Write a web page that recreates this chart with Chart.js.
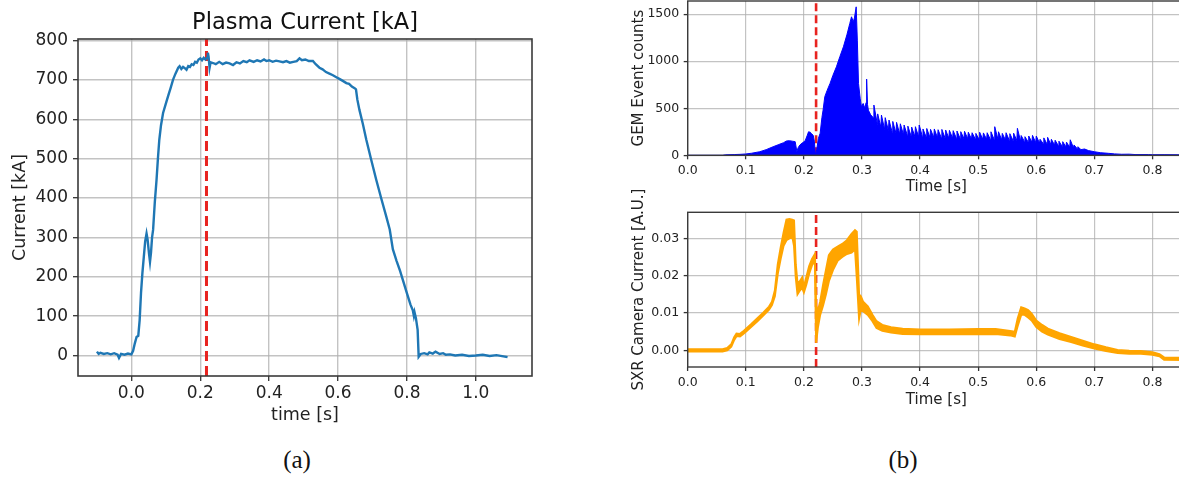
<!DOCTYPE html>
<html>
<head>
<meta charset="utf-8">
<script src="https://cdn.jsdelivr.net/npm/chart.js@4.4.0/dist/chart.umd.min.js"></script>
<style>
html, body { margin: 0; padding: 0; background: #fff; overflow: hidden; width: 1179px; height: 477px; }
canvas { position: absolute; }
#plasma { left: 0; top: 0; }
#gem { left: 600px; top: 0; }
#sxr { left: 600px; top: 180px; }
.cap { position: absolute; font-family: "Liberation Serif", "DejaVu Serif", serif; font-size: 25px; line-height: 30px; color: #111; transform: translateX(-50%); }
</style>
</head>
<body>
<canvas id="plasma" width="545" height="440"></canvas>
<canvas id="gem" width="585" height="215"></canvas>
<canvas id="sxr" width="585" height="250"></canvas>
<div class="cap" style="left:297px; top:445px">(a)</div>
<div class="cap" style="left:903px; top:445px">(b)</div>
<script>
var FONT = "'DejaVu Sans', sans-serif";

// (a) plasma current, kA
var plasmaTime = [-0.100, -0.095, -0.090, -0.080, -0.070, -0.060, -0.050, -0.040, -0.036, -0.030, -0.020, -0.010, 0.000,
    0.005, 0.010, 0.015, 0.020, 0.024, 0.028, 0.032, 0.036, 0.040, 0.044, 0.047, 0.051, 0.054, 0.057, 0.060, 0.063,
    0.068, 0.073, 0.077, 0.081, 0.086, 0.092, 0.100, 0.107, 0.114, 0.121, 0.128, 0.136, 0.140, 0.145, 0.150, 0.155,
    0.160, 0.165, 0.170, 0.175, 0.180, 0.185, 0.190, 0.195, 0.200, 0.205, 0.210, 0.215, 0.220, 0.222, 0.224, 0.227,
    0.230, 0.237, 0.245, 0.255, 0.265, 0.275, 0.285, 0.295, 0.305, 0.315, 0.325, 0.335, 0.343, 0.355, 0.365, 0.375,
    0.385, 0.392, 0.400, 0.410, 0.420, 0.430, 0.440, 0.450, 0.460, 0.470, 0.480, 0.488, 0.495, 0.505, 0.515, 0.527,
    0.535, 0.546, 0.555, 0.565, 0.575, 0.585, 0.595, 0.605, 0.615, 0.624, 0.632, 0.640, 0.648, 0.652, 0.656, 0.662,
    0.672, 0.682, 0.696, 0.711, 0.725, 0.740, 0.750, 0.759, 0.770, 0.780, 0.788, 0.800, 0.810, 0.817, 0.820, 0.822,
    0.826, 0.831, 0.834, 0.840, 0.850, 0.860, 0.865, 0.875, 0.883, 0.895, 0.905, 0.913, 0.925, 0.940, 0.960, 0.980,
    1.000, 1.020, 1.040, 1.060, 1.080, 1.092];
var plasmaCurrent = [10, 4, 7, 4, 6, 3, 6, 2, -6, 4, 2, 5, 3,
    12, 31, 47, 50, 90, 160, 210, 250, 290, 310, 295, 260, 238, 262, 300, 319,
    390, 446, 500, 548, 585, 616, 640, 660, 680, 701, 716, 731, 735, 728, 733, 730,
    726, 735, 733, 740, 738, 746, 744, 752, 755, 750, 756, 752, 757, 769, 760, 731,
    745, 743, 740, 746, 740, 744, 742, 738, 745, 742, 748, 745, 750, 746, 750, 747,
    752, 748, 750, 746, 749, 747, 745, 748, 744, 746, 748, 755, 750, 752, 748, 748,
    740, 731, 727, 720, 716, 712, 707, 702, 697, 692, 690, 683, 679, 676, 650, 624,
    588, 548, 498, 446, 400, 353, 320, 270, 240, 215, 192, 158, 130, 115, 101, 110,
    95, 65, -3, 4, 6, 3, 8, 5, 10, 4, 6, 2, 3, 0, 2, -1,
    0, 2, -1, 1, -2, -4];
var plasmaXTicks = [0.0, 0.2, 0.4, 0.6, 0.8, 1.0];
var plasmaYTicks = [0, 100, 200, 300, 400, 500, 600, 700, 800];
var plasmaXRange = [-0.155, 1.163];
var plasmaYRange = [-52, 804];

// (b) top: GEM event counts
var gemTime = [0.000, 0.060, 0.065, 0.080, 0.090, 0.100, 0.110, 0.124, 0.135, 0.147, 0.157, 0.165, 0.170, 0.175,
    0.180, 0.185, 0.188, 0.190, 0.193, 0.197, 0.202, 0.206, 0.208, 0.211, 0.213, 0.216, 0.218, 0.220, 0.222, 0.225,
    0.228, 0.231, 0.233, 0.236, 0.240, 0.245, 0.250, 0.256, 0.262, 0.268, 0.274, 0.279, 0.282, 0.285, 0.287, 0.290,
    0.292, 0.294, 0.297, 0.299, 0.302, 0.305, 0.307, 0.308, 0.3095, 0.311, 0.315, 0.3195,
    0.3205, 0.3265, 0.327, 0.3325, 0.3335, 0.339, 0.340, 0.3455, 0.3465, 0.352, 0.353, 0.3585, 0.3595, 0.365,
    0.366, 0.3715, 0.3725, 0.378, 0.379, 0.3845, 0.3855, 0.391, 0.392, 0.3975, 0.3985, 0.404, 0.405, 0.4105,
    0.4115, 0.417, 0.418, 0.4235, 0.4245, 0.430, 0.431, 0.4365, 0.4375, 0.443, 0.444, 0.4495, 0.4505, 0.456,
    0.457, 0.4625, 0.4635, 0.469, 0.470, 0.4755, 0.4765, 0.482, 0.483, 0.4885, 0.4895, 0.495, 0.496, 0.5015,
    0.5025, 0.508, 0.509, 0.5145, 0.5155, 0.521, 0.522, 0.5275, 0.5285, 0.534, 0.535, 0.5405, 0.5415, 0.547,
    0.548, 0.5535, 0.5545, 0.560, 0.561, 0.5665, 0.5675, 0.573, 0.574, 0.5795, 0.5805, 0.586, 0.587, 0.5925,
    0.5935, 0.599, 0.600, 0.6055, 0.6065, 0.612, 0.613, 0.6185, 0.6195, 0.625, 0.626, 0.6315, 0.6325, 0.638,
    0.639, 0.6445, 0.6455, 0.651, 0.652, 0.6575, 0.6585, 0.664, 0.665, 0.6705, 0.6715, 0.677,
    0.683, 0.690, 0.700, 0.710, 0.724, 0.735, 0.747, 0.760, 0.770, 0.793, 0.800, 0.820, 0.856];
var gemCounts = [0, 0, 5, 8, 10, 14, 22, 38, 60, 91, 115, 134, 152, 155,
    150, 145, 38, 80, 109, 130, 152, 215, 250, 245, 232, 212, 150, 0, 60, 180,
    235, 400, 480, 623, 690, 764, 850, 941, 1050, 1153, 1280, 1401, 1472, 1419, 1460, 1578,
    1224, 764, 600, 516, 551, 500, 560, 810, 540, 480, 430, 400,
    534, 330, 440, 300, 428, 275, 400, 262, 375, 245, 360, 235, 350, 225,
    335, 218, 322, 212, 310, 205, 300, 200, 304, 196, 322, 198, 280, 194,
    285, 190, 276, 190, 280, 186, 272, 186, 275, 184, 269, 182, 265, 182,
    262, 180, 258, 178, 251, 178, 255, 176, 245, 174, 240, 174, 233, 170,
    245, 170, 238, 170, 240, 168, 250, 168, 304, 170, 250, 164, 233, 162,
    240, 160, 230, 158, 235, 158, 287, 150, 210, 148, 198, 142, 205, 140,
    212, 136, 205, 130, 170, 124, 185, 120, 191, 114, 170, 108, 160, 102,
    150, 96, 145, 90, 140, 85, 165, 80, 110, 70, 91, 60,
    67, 50, 38, 28, 21, 15, 11, 12, 8, 8, 6, 7, 5];

// (b) bottom: SXR camera current, band drawn between high and low
var sxrTime = [0.000, 0.030, 0.060, 0.068, 0.075, 0.080, 0.084, 0.090, 0.095, 0.100, 0.110, 0.120, 0.130, 0.140,
    0.145, 0.150, 0.155, 0.160, 0.165, 0.170, 0.175, 0.180, 0.183, 0.186, 0.189, 0.193, 0.197, 0.200, 0.204,
    0.209, 0.214, 0.219, 0.221, 0.224, 0.228, 0.233, 0.238, 0.243, 0.250, 0.258, 0.266, 0.274, 0.282, 0.288,
    0.291, 0.295, 0.298, 0.302, 0.310, 0.318, 0.325, 0.335, 0.350, 0.370, 0.400, 0.450, 0.500, 0.530, 0.555,
    0.563, 0.568, 0.574, 0.580, 0.586, 0.592, 0.600, 0.610, 0.620, 0.640, 0.660, 0.680, 0.700, 0.720, 0.740,
    0.760, 0.780, 0.800, 0.812, 0.820, 0.856];
var sxrHigh = [0.0003, 0.0003, 0.0003, 0.0006, 0.0016, 0.0035, 0.0045, 0.0044, 0.0050, 0.0057, 0.0071, 0.0086, 0.0101, 0.0117,
    0.0130, 0.0160, 0.0230, 0.0275, 0.0315, 0.0350, 0.0352, 0.0350, 0.0348, 0.0230, 0.0180, 0.0185, 0.0195, 0.0170, 0.0195,
    0.0225, 0.0245, 0.0258, 0.0120, 0.0105, 0.0130, 0.0175, 0.0215, 0.0255, 0.0270, 0.0278, 0.0285, 0.0295, 0.0312, 0.0322,
    0.0318, 0.0150, 0.0145, 0.0130, 0.0118, 0.0095, 0.0078, 0.0068, 0.0062, 0.0058, 0.0056, 0.0056, 0.0057, 0.0057, 0.0052,
    0.0050, 0.0085, 0.0115, 0.0112, 0.0108, 0.0098, 0.0080, 0.0068, 0.0058, 0.0046, 0.0036, 0.0026, 0.0016, 0.0008, 0.0001,
    -0.0001, -0.0002, -0.0005, -0.0010, -0.0019, -0.0020];
var sxrLow = [-0.0003, -0.0003, -0.0003, 0.0000, 0.0010, 0.0028, 0.0038, 0.0037, 0.0043, 0.0050, 0.0064, 0.0078, 0.0093, 0.0109,
    0.0121, 0.0145, 0.0205, 0.0245, 0.0280, 0.0295, 0.0300, 0.0305, 0.0280, 0.0195, 0.0150, 0.0160, 0.0168, 0.0155, 0.0175,
    0.0205, 0.0228, 0.0240, 0.0020, 0.0060, 0.0095, 0.0120, 0.0150, 0.0185, 0.0215, 0.0240, 0.0250, 0.0258, 0.0262, 0.0270,
    0.0195, 0.0085, 0.0110, 0.0105, 0.0095, 0.0078, 0.0060, 0.0052, 0.0048, 0.0044, 0.0043, 0.0043, 0.0043, 0.0044, 0.0040,
    0.0037, 0.0065, 0.0095, 0.0095, 0.0088, 0.0080, 0.0062, 0.0050, 0.0042, 0.0030, 0.0022, 0.0013, 0.0005, -0.0002, -0.0007,
    -0.0009, -0.0009, -0.0012, -0.0016, -0.0025, -0.0026];

var rightXTicks = [0.0, 0.1, 0.2, 0.3, 0.4, 0.5, 0.6, 0.7, 0.8];
var rightXRange = [0, 0.856];
var gemYTicks = [0, 500, 1000, 1500];
var gemYRange = [0, 1640];
var sxrYTicks = [0.00, 0.01, 0.02, 0.03];
var sxrYRange = [-0.00447, 0.03697];

// time of the red dashed marker
var markTimeA = 0.218;
var markTimeB = 0.221;

function pts(xs, ys) {
    return xs.map(function (x, i) { return { x: x, y: ys[i] }; });
}

var spines = {
    id: 'spines',
    afterDraw: function (chart, args, opts) {
        var a = chart.chartArea, ctx = chart.ctx;
        ctx.save();
        ctx.strokeStyle = '#3a3a3a';
        ctx.lineWidth = opts.width || 1.4;
        ctx.strokeRect(a.left, a.top, a.right - a.left, a.bottom - a.top);
        ctx.restore();
    }
};

function axis(o) {
    return {
        type: 'linear',
        min: o.range[0],
        max: o.range[1],
        afterBuildTicks: function (s) {
            s.ticks = o.ticks.map(function (v) { return { value: v }; });
        },
        afterFit: function (s) {
            if (s.isHorizontal()) s.height = o.size; else s.width = o.size;
            s.paddingLeft = s.paddingRight = s.paddingTop = s.paddingBottom = 0;
        },
        ticks: {
            autoSkip: false, maxRotation: 0, padding: o.pad, color: '#222',
            font: { family: FONT, size: o.tickSize },
            callback: function (v) { return v.toFixed(o.dec); }
        },
        grid: { color: 'rgba(175,175,175,0.75)', lineWidth: o.gridW, tickColor: '#333', tickLength: o.tickLen, tickWidth: 1.3 },
        border: { display: false },
        title: { display: true, text: o.title, color: '#222', font: { family: FONT, size: o.titleSize }, padding: o.titlePad }
    };
}

function markLine(t, yr, w, dash) {
    return {
        data: [{ x: t, y: yr[0] }, { x: t, y: yr[1] }],
        borderColor: '#e8231f', borderWidth: w, borderDash: dash,
        pointRadius: 0, fill: false
    };
}

var common = {
    responsive: false,
    animation: false,
    events: [],
    plugins: { legend: { display: false }, tooltip: { enabled: false } }
};

// (a)
new Chart(document.getElementById('plasma'), {
    type: 'line',
    data: {
        datasets: [
            { data: pts(plasmaTime, plasmaCurrent), borderColor: '#1f77b4', borderWidth: 2.4, pointRadius: 0, fill: false },
            markLine(markTimeA, plasmaYRange, 3, [10, 5])
        ]
    },
    options: Object.assign({}, common, {
        layout: { padding: { left: 0, right: 13, top: 0, bottom: 0 } },
        plugins: {
            legend: { display: false }, tooltip: { enabled: false },
            title: { display: true, text: 'Plasma Current [kA]', fullSize: false, color: '#111',
                font: { family: FONT, size: 22.5, weight: 'normal' }, padding: { top: 10, bottom: 2 } },
            spines: { width: 1.6 }
        },
        scales: {
            x: axis({ range: plasmaXRange, ticks: plasmaXTicks, size: 64, pad: 2, tickSize: 17, dec: 1, gridW: 1.4, tickLen: 5,
                title: 'time [s]', titleSize: 17.5, titlePad: { top: 0, bottom: 14 } }),
            y: axis({ range: plasmaYRange, ticks: plasmaYTicks, size: 78, pad: 5, tickSize: 17, dec: 0, gridW: 1.4, tickLen: 5,
                title: 'Current [kA]', titleSize: 17.5, titlePad: { top: 10, bottom: 0 } })
        }
    }),
    plugins: [spines]
});

// (b) top
new Chart(document.getElementById('gem'), {
    type: 'line',
    data: {
        datasets: [
            { data: pts(gemTime, gemCounts), borderColor: '#0000ff', backgroundColor: '#0000ff', borderWidth: 1, pointRadius: 0, fill: 'origin' },
            markLine(markTimeB, gemYRange, 2.6, [8, 4])
        ]
    },
    options: Object.assign({}, common, {
        layout: { padding: { left: 0, right: 0, top: 1, bottom: 0 } },
        plugins: { legend: { display: false }, tooltip: { enabled: false }, spines: { width: 1.4 } },
        scales: {
            x: axis({ range: rightXRange, ticks: rightXTicks, size: 59.7, pad: 4, tickSize: 12.5, dec: 1, gridW: 1.2, tickLen: 4,
                title: 'Time [s]', titleSize: 15, titlePad: { top: 0, bottom: 19 } }),
            y: axis({ range: gemYRange, ticks: gemYTicks, size: 87.7, pad: 4.5, tickSize: 12.5, dec: 0, gridW: 1.2, tickLen: 4,
                title: 'GEM Event counts', titleSize: 15, titlePad: { top: 30, bottom: 0 } })
        }
    }),
    plugins: [spines]
});

// (b) bottom
new Chart(document.getElementById('sxr'), {
    type: 'line',
    data: {
        datasets: [
            { data: pts(sxrTime, sxrHigh), borderColor: '#ffa500', borderWidth: 2, pointRadius: 0, fill: false },
            { data: pts(sxrTime, sxrLow), borderColor: '#ffa500', backgroundColor: '#ffa500', borderWidth: 2, pointRadius: 0, fill: '-1' },
            markLine(markTimeB, sxrYRange, 2.6, [8, 4])
        ]
    },
    options: Object.assign({}, common, {
        layout: { padding: { left: 0, right: 0, top: 32.3, bottom: 0 } },
        plugins: { legend: { display: false }, tooltip: { enabled: false }, spines: { width: 1.4 } },
        scales: {
            x: axis({ range: rightXRange, ticks: rightXTicks, size: 63, pad: 4, tickSize: 12.5, dec: 1, gridW: 1.2, tickLen: 4,
                title: 'Time [s]', titleSize: 15, titlePad: { top: 0, bottom: 21 } }),
            y: axis({ range: sxrYRange, ticks: sxrYTicks, size: 87.7, pad: 4.5, tickSize: 12.5, dec: 2, gridW: 1.2, tickLen: 4,
                title: 'SXR Camera Current [A.U.]', titleSize: 15, titlePad: { top: 30, bottom: 0 } })
        }
    }),
    plugins: [spines]
});
</script>
</body>
</html>
